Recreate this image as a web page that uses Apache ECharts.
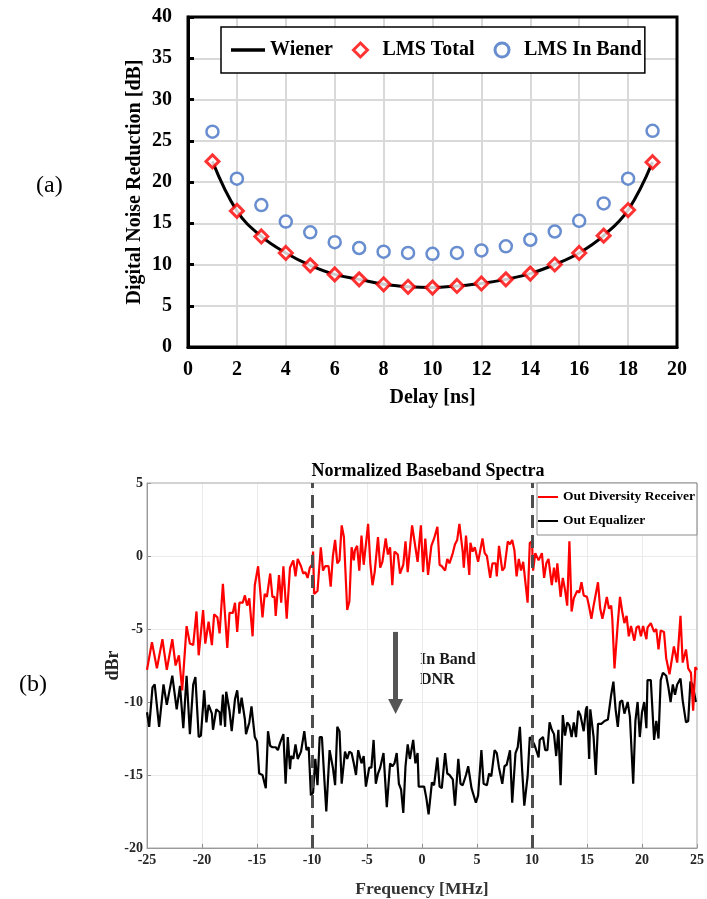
<!DOCTYPE html>
<html>
<head>
<meta charset="utf-8">
<script src="https://cdn.jsdelivr.net/npm/echarts@6/dist/echarts.min.js"></script>
<style>
  html, body { margin: 0; padding: 0; background: #fff; }
  #chart { width: 707px; height: 899px; }
</style>
</head>
<body>
<div id="chart"></div>
<script>
const FONT = '"Liberation Serif", "Times New Roman", serif'

// (a) digital noise reduction vs delay
const delayNs = [1, 2, 3, 4, 5, 6, 7, 8, 9, 10, 11, 12, 13, 14, 15, 16, 17, 18, 19]
const wienerDnr = [22.5, 16.5, 13.4, 11.4, 9.9, 8.8, 8.2, 7.6, 7.3, 7.2, 7.4, 7.7, 8.2, 8.9, 10.0, 11.4, 13.5, 16.6, 22.4]
const lmsTotal = [22.5, 16.5, 13.4, 11.4, 9.9, 8.8, 8.2, 7.6, 7.3, 7.2, 7.4, 7.7, 8.2, 8.9, 10.0, 11.4, 13.5, 16.6, 22.4]
const lmsInBand = [26.1, 20.4, 17.2, 15.2, 13.9, 12.7, 12.0, 11.55, 11.4, 11.3, 11.4, 11.7, 12.2, 13.0, 14.0, 15.3, 17.4, 20.4, 26.2]

// (b) normalized baseband spectra, [MHz, dBr]
const rxSpectrum = [
  [-25.0, -7.8], [-24.55, -5.9], [-24.1, -7.7], [-23.6, -5.7], [-23.2, -7.8], [-22.7, -5.7], [-22.4, -7.5], [-22.1, -6.8],
  [-21.8, -9.2], [-21.4, -4.8], [-21.1, -6.0], [-20.8, -6.1], [-20.5, -3.8], [-20.3, -6.8], [-19.9, -3.7], [-19.7, -6.0],
  [-19.4, -4.5], [-19.1, -6.1], [-18.9, -4.0], [-18.6, -4.2], [-18.4, -5.3], [-18.1, -1.9], [-17.7, -6.3], [-17.5, -3.9],
  [-17.2, -3.9], [-17.0, -3.2], [-16.8, -5.2], [-16.6, -3.2], [-16.3, -3.2], [-16.1, -2.7], [-15.9, -3.4], [-15.7, -2.9],
  [-15.4, -5.5], [-15.2, -2.0], [-14.9, -0.7], [-14.5, -4.2], [-14.3, -2.6], [-14.1, -2.8], [-13.8, -1.2], [-13.6, -2.8],
  [-13.4, -2.8], [-13.3, -4.1], [-13.0, -1.3], [-12.8, -3.2], [-12.6, -0.7], [-12.3, -4.3], [-12.0, -0.8], [-11.7, -0.3],
  [-11.5, -1.4], [-11.3, -0.2], [-11.0, -0.7], [-10.8, -1.2], [-10.6, -1.1], [-10.4, -1.5], [-10.2, -0.8], [-10.0, -0.6],
  [-9.9, 0.3], [-9.8, -2.6], [-9.5, -2.4], [-9.2, 0.6], [-9.0, -1.0], [-8.8, -0.7], [-8.5, -0.7], [-8.3, -2.1],
  [-8.1, 0.0], [-7.9, 1.1], [-7.7, -0.5], [-7.5, -0.3], [-7.3, 2.1], [-7.1, 1.3], [-6.8, -3.7], [-6.6, -3.1],
  [-6.4, 0.6], [-6.2, -0.3], [-6.1, 0.4], [-5.9, 0.7], [-5.7, -1.0], [-5.5, 1.4], [-5.3, -0.6], [-4.9, 2.2],
  [-4.7, -0.5], [-4.5, -2.0], [-4.3, -1.1], [-4.0, 1.3], [-3.8, -0.8], [-3.6, -0.4], [-3.3, 1.2], [-3.1, 0.1],
  [-2.9, 0.6], [-2.7, -2.0], [-2.5, 0.3], [-2.2, 0.1], [-2.0, -1.2], [-1.7, -0.6], [-1.5, 1.0], [-1.3, -1.1],
  [-0.9, 2.1], [-0.6, 0.6], [-0.4, -0.4], [-0.1, 2.1], [0.1, -1.1], [0.3, 1.2], [0.55, -1.3], [0.85, 0.7],
  [1.1, 1.2], [1.4, 2.0], [1.6, -0.6], [1.8, -0.7], [2.1, -1.0], [2.3, -0.2], [2.5, -0.5], [2.8, 0.2],
  [3.0, 0.8], [3.2, 1.1], [3.4, 2.2], [3.7, 0.3], [3.8, -0.8], [4.0, 1.4], [4.3, -1.3], [4.4, 0.9],
  [4.6, 0.3], [4.8, 0.6], [5.1, -0.4], [5.5, 1.2], [5.7, 0.2], [5.9, 0.0], [6.2, -1.5], [6.4, -0.5],
  [6.7, -0.5], [6.8, -1.4], [7.0, 0.7], [7.3, -1.0], [7.5, -0.8], [7.8, 1.0], [8.0, 0.8], [8.2, 1.1],
  [8.4, 0.4], [8.6, -1.4], [8.8, -0.2], [9.0, -1.0], [9.2, -0.4], [9.6, -3.2], [9.8, 0.9], [10.0, 1.0],
  [10.1, -1.0], [10.3, 0.2], [10.6, -0.3], [10.9, 0.2], [11.1, -1.5], [11.3, -0.5], [11.5, -0.2], [11.8, -2.0],
  [12.0, -0.8], [12.2, -1.8], [12.3, -0.5], [12.6, -2.8], [12.8, -1.5], [13.0, -2.3], [13.2, -3.4], [13.4, 1.0],
  [13.6, -3.8], [13.8, -2.9], [14.1, -2.4], [14.3, -2.5], [14.5, -1.8], [14.7, -2.7], [15.0, -2.8], [15.2, -3.5],
  [15.4, -4.3], [15.6, -3.4], [15.8, -2.6], [16.0, -1.8], [16.2, -3.6], [16.4, -4.3], [16.6, -3.6], [16.8, -2.8],
  [17.0, -3.6], [17.2, -3.4], [17.3, -4.3], [17.5, -7.7], [17.8, -4.6], [18.0, -2.8], [18.2, -3.8], [18.4, -4.6],
  [18.6, -4.1], [18.8, -5.5], [19.0, -4.8], [19.3, -5.8], [19.5, -4.9], [19.7, -4.8], [19.9, -5.5], [20.1, -4.8],
  [20.4, -5.7], [20.5, -4.9], [20.8, -4.6], [21.1, -5.2], [21.3, -5.0], [21.5, -6.4], [21.7, -5.1], [22.0, -5.2],
  [22.2, -7.0], [22.5, -8.1], [22.9, -6.2], [23.2, -7.3], [23.5, -4.1], [23.7, -7.3], [24.0, -6.4], [24.2, -7.7],
  [24.45, -8.0], [24.65, -10.6], [24.85, -7.6], [25.0, -7.8]
]
const eqSpectrum = [
  [-25.0, -10.7], [-24.8, -11.7], [-24.5, -9.0], [-24.3, -8.8], [-23.9, -11.7], [-23.5, -8.8], [-23.2, -10.2], [-22.7, -8.2],
  [-22.3, -10.5], [-22.0, -8.9], [-21.7, -11.8], [-21.4, -8.2], [-21.1, -12.2], [-20.8, -8.8], [-20.6, -8.3], [-20.3, -12.4],
  [-20.1, -12.3], [-19.8, -9.2], [-19.6, -11.4], [-19.4, -10.2], [-19.1, -10.8], [-19.0, -11.9], [-18.7, -10.5], [-18.4, -10.7],
  [-18.3, -11.6], [-18.1, -9.5], [-17.9, -11.7], [-17.8, -9.3], [-17.5, -10.6], [-17.3, -12.0], [-17.0, -9.8], [-16.8, -9.2],
  [-16.6, -10.8], [-16.4, -9.7], [-16.1, -11.2], [-16.0, -12.2], [-15.7, -11.4], [-15.5, -10.3], [-15.2, -12.4], [-15.0, -12.7],
  [-14.8, -14.9], [-14.5, -15.0], [-14.2, -15.9], [-14.0, -12.0], [-13.8, -13.0], [-13.6, -13.1], [-13.3, -13.1], [-13.1, -13.3],
  [-12.9, -12.8], [-12.6, -12.2], [-12.4, -15.6], [-12.2, -12.4], [-12.0, -14.6], [-11.9, -13.7], [-11.7, -13.9], [-11.5, -12.9],
  [-11.3, -13.9], [-11.0, -13.4], [-10.7, -12.0], [-10.5, -13.3], [-10.3, -13.1], [-10.1, -16.4], [-9.9, -16.2], [-9.7, -13.9],
  [-9.5, -15.7], [-9.3, -12.4], [-9.1, -12.4], [-8.9, -15.0], [-8.7, -17.5], [-8.4, -13.3], [-8.1, -14.5], [-7.9, -15.7],
  [-7.7, -11.7], [-7.5, -12.0], [-7.3, -15.6], [-7.0, -13.4], [-6.8, -13.9], [-6.6, -13.4], [-6.4, -13.5], [-6.2, -14.2],
  [-6.0, -15.0], [-5.8, -13.3], [-5.5, -14.2], [-5.3, -13.7], [-5.1, -15.8], [-4.8, -14.5], [-4.6, -14.5], [-4.4, -12.6],
  [-4.2, -15.6], [-4.0, -14.9], [-3.8, -14.5], [-3.5, -13.5], [-3.2, -17.2], [-2.9, -14.2], [-2.7, -14.4], [-2.5, -14.2],
  [-2.3, -13.5], [-2.1, -15.6], [-1.9, -16.0], [-1.7, -17.6], [-1.5, -14.4], [-1.3, -12.9], [-1.1, -13.9], [-0.8, -12.6],
  [-0.6, -14.2], [-0.4, -13.5], [-0.3, -15.8], [0.0, -15.8], [0.2, -15.8], [0.4, -16.6], [0.6, -17.7], [0.9, -15.5],
  [1.1, -15.7], [1.4, -13.8], [1.6, -15.8], [1.8, -15.9], [2.1, -13.5], [2.3, -14.9], [2.5, -15.0], [2.8, -15.3],
  [3.0, -17.1], [3.3, -13.9], [3.5, -15.6], [3.7, -15.7], [4.0, -15.0], [4.2, -14.4], [4.5, -15.9], [4.6, -16.0],
  [4.9, -16.9], [5.1, -16.4], [5.4, -13.3], [5.6, -15.6], [5.9, -15.7], [6.1, -14.9], [6.3, -15.1], [6.6, -13.3],
  [6.8, -13.5], [7.0, -14.5], [7.3, -15.6], [7.5, -14.4], [7.7, -14.3], [8.0, -13.3], [8.2, -16.9], [8.5, -13.5],
  [8.7, -13.1], [8.9, -11.7], [9.1, -14.6], [9.3, -17.1], [9.6, -15.1], [9.8, -12.4], [10.0, -12.6], [10.2, -12.9],
  [10.3, -13.1], [10.6, -13.8], [10.7, -12.6], [11.0, -12.4], [11.2, -13.3], [11.4, -13.3], [11.6, -11.4], [11.8, -11.9],
  [12.0, -12.2], [12.2, -13.7], [12.4, -11.9], [12.6, -15.7], [12.8, -10.9], [13.0, -12.3], [13.2, -11.4], [13.4, -11.6],
  [13.6, -12.4], [13.8, -11.4], [14.0, -12.4], [14.2, -10.6], [14.4, -10.9], [14.7, -12.0], [14.9, -10.5], [15.0, -10.3],
  [15.2, -13.9], [15.3, -10.5], [15.6, -12.4], [15.8, -15.0], [16.0, -11.5], [16.3, -11.5], [16.6, -11.3], [16.9, -11.2],
  [17.2, -9.5], [17.4, -8.6], [17.6, -10.5], [17.8, -11.7], [18.0, -10.0], [18.2, -9.9], [18.4, -10.8], [18.7, -10.0],
  [18.9, -11.0], [19.2, -15.6], [19.4, -11.3], [19.6, -10.0], [19.8, -12.4], [20.0, -10.7], [20.2, -10.0], [20.4, -11.8],
  [20.5, -8.5], [20.8, -8.5], [21.1, -12.6], [21.3, -11.3], [21.5, -12.5], [21.7, -8.5], [21.9, -8.0], [22.2, -8.2],
  [22.4, -9.0], [22.6, -10.0], [22.8, -8.8], [23.0, -9.5], [23.2, -8.8], [23.5, -8.4], [23.7, -9.9], [24.0, -11.4],
  [24.2, -11.3], [24.4, -8.6], [24.6, -8.8], [24.9, -10.0]
]
const bandEdges = [-10, 10]
const dnrArrow = { freq: -2.4, top: -5.2, tip: -10.3 }

const boldText = (size, color) => ({ fontFamily: FONT, fontWeight: 'bold', fontSize: size, color: color })
// legend samples: plain bar for line series, square-aspect diamond
const LINE_ICON = 'path://M0,0L30,0L30,3L0,3Z'
const DIAMOND_ICON = 'path://M7,0L14,7L7,14L0,7Z'

const chart = echarts.init(document.getElementById('chart'))

const option = {
  backgroundColor: '#fff',
  animation: false,
  title: {
    text: 'Normalized Baseband Spectra',
    left: 423,
    top: 457,
    textAlign: 'center',
    textStyle: boldText(18, '#000')
  },
  grid: [
    // (a)
    { left: 188, top: 17, width: 489, height: 330, show: true, borderColor: '#000', borderWidth: 3, backgroundColor: 'transparent', z: 1 },
    // (b)
    { left: 147, top: 483, width: 552, height: 365, show: true, borderColor: '#a6a6a6', borderWidth: 1, backgroundColor: 'transparent', z: 1 }
  ],
  legend: [
    {
      data: [
        { name: 'Wiener', icon: LINE_ICON },
        { name: 'LMS Total', icon: DIAMOND_ICON, itemStyle: { color: '#fff', borderColor: '#ff0000', borderWidth: 3 } },
        { name: 'LMS In Band', icon: 'circle', itemStyle: { color: '#fff', borderColor: '#4472c4', borderWidth: 3 } }
      ],
      left: 221,
      top: 27,
      padding: [13, 3, 13, 10],
      itemGap: 19,
      itemWidth: 34,
      itemHeight: 14,
      symbolKeepAspect: true,
      borderColor: '#000',
      borderWidth: 1.5,
      backgroundColor: '#fff',
      textStyle: boldText(20, '#000')
    },
    {
      data: [
        { name: 'Out Diversity Receiver', icon: LINE_ICON },
        { name: 'Out Equalizer', icon: LINE_ICON }
      ],
      orient: 'vertical',
      left: 537,
      top: 483,
      padding: [7, 2, 7, 1],
      itemGap: 10,
      itemWidth: 20,
      itemHeight: 14,
      symbolKeepAspect: true,
      borderColor: '#8c8c8c',
      borderWidth: 1,
      backgroundColor: '#fff',
      textStyle: boldText(13.5, '#000')
    }
  ],
  xAxis: [
    {
      gridIndex: 0,
      type: 'value',
      min: 0,
      max: 20,
      interval: 2,
      name: 'Delay [ns]',
      nameLocation: 'middle',
      nameGap: 41,
      nameMoveOverlap: false,
      nameTextStyle: boldText(20, '#000'),
      axisLine: { show: true, lineStyle: { color: '#000', width: 3 } },
      axisTick: { show: false },
      axisLabel: { ...boldText(20, '#000'), margin: 13 },
      splitLine: { show: true, showMinLine: false, showMaxLine: false, lineStyle: { color: '#d9d9d9', width: 2 } }
    },
    {
      gridIndex: 1,
      type: 'value',
      min: -25,
      max: 25,
      interval: 5,
      name: 'Frequency [MHz]',
      nameLocation: 'middle',
      nameGap: 32,
      nameMoveOverlap: false,
      nameTextStyle: boldText(17.5, '#333'),
      axisLine: { show: true, onZero: false, lineStyle: { color: '#8c8c8c', width: 1 } },
      axisTick: { show: true, inside: true, length: 4, lineStyle: { color: '#8c8c8c' } },
      axisLabel: { ...boldText(14, '#262626'), margin: 5 },
      splitLine: { show: true, showMinLine: false, showMaxLine: false, lineStyle: { color: '#ebebeb', width: 1 } }
    }
  ],
  yAxis: [
    {
      gridIndex: 0,
      type: 'value',
      min: 0,
      max: 40,
      interval: 5,
      name: 'Digital Noise Reduction [dB]',
      nameLocation: 'middle',
      nameGap: 43,
      nameRotate: 90,
      nameMoveOverlap: false,
      nameTextStyle: boldText(20, '#000'),
      axisLine: { show: true, lineStyle: { color: '#000', width: 3 } },
      axisTick: { show: true, inside: true, length: 6, lineStyle: { color: '#000', width: 3 } },
      axisLabel: { ...boldText(20, '#000'), margin: 16 },
      splitLine: { show: true, showMinLine: false, showMaxLine: false, lineStyle: { color: '#d9d9d9', width: 2 } }
    },
    {
      gridIndex: 1,
      type: 'value',
      min: -20,
      max: 5,
      interval: 5,
      name: 'dBr',
      nameLocation: 'middle',
      nameGap: 25,
      nameRotate: 90,
      nameMoveOverlap: false,
      nameTextStyle: boldText(18, '#262626'),
      axisLine: { show: true, onZero: false, lineStyle: { color: '#8c8c8c', width: 1 } },
      axisTick: { show: true, inside: true, length: 4, lineStyle: { color: '#8c8c8c' } },
      axisLabel: { ...boldText(14, '#262626'), margin: 4 },
      splitLine: { show: true, showMinLine: false, showMaxLine: false, lineStyle: { color: '#ebebeb', width: 1 } }
    }
  ],
  graphic: [
    { type: 'text', left: 36, top: 174, style: { text: '(a)', font: '24px ' + FONT, fill: '#000' } },
    { type: 'text', left: 19, top: 673, style: { text: '(b)', font: '24px ' + FONT, fill: '#000' } },
    { type: 'text', left: 420, top: 650, style: { text: 'In Band\nDNR', font: 'bold 16px ' + FONT, lineHeight: 20, fill: '#1a1a1a' } }
  ],
  series: [
    {
      name: 'Wiener',
      type: 'line',
      xAxisIndex: 0,
      yAxisIndex: 0,
      data: delayNs.map((d, i) => [d, wienerDnr[i]]),
      smooth: 0.4,
      symbol: 'none',
      lineStyle: { color: '#000', width: 3 },
      itemStyle: { color: '#000' },
      z: 2
    },
    {
      name: 'LMS Total',
      type: 'scatter',
      xAxisIndex: 0,
      yAxisIndex: 0,
      data: delayNs.map((d, i) => [d, lmsTotal[i]]),
      symbol: 'diamond',
      symbolSize: 13,
      itemStyle: { color: '#fff', borderColor: '#ff0000', borderWidth: 3 },
      z: 4
    },
    {
      name: 'LMS In Band',
      type: 'scatter',
      xAxisIndex: 0,
      yAxisIndex: 0,
      data: delayNs.map((d, i) => [d, lmsInBand[i]]),
      symbol: 'circle',
      symbolSize: 12,
      itemStyle: { color: '#fff', borderColor: '#4472c4', borderWidth: 2.5 },
      z: 4
    },
    {
      name: 'Out Equalizer',
      type: 'line',
      xAxisIndex: 1,
      yAxisIndex: 1,
      data: eqSpectrum,
      symbol: 'none',
      lineStyle: { color: '#000', width: 2.2 },
      itemStyle: { color: '#000' },
      markLine: {
        silent: true,
        symbol: ['none', 'triangle'],
        symbolSize: [15, 15],
        label: { show: false },
        lineStyle: { color: '#555', width: 5, type: 'solid' },
        data: [[{ coord: [dnrArrow.freq, dnrArrow.top] }, { coord: [dnrArrow.freq, dnrArrow.tip] }]]
      },
      z: 3
    },
    {
      name: 'Out Diversity Receiver',
      type: 'line',
      xAxisIndex: 1,
      yAxisIndex: 1,
      data: rxSpectrum,
      symbol: 'none',
      lineStyle: { color: '#ff0000', width: 2.2 },
      itemStyle: { color: '#ff0000' },
      markLine: {
        silent: true,
        symbol: 'none',
        label: { show: false },
        lineStyle: { color: '#4d4d4d', width: 3, type: [13, 7] },
        data: bandEdges.map(f => ({ xAxis: f }))
      },
      z: 4
    }
  ]
}

chart.setOption(option)
</script>
</body>
</html>
